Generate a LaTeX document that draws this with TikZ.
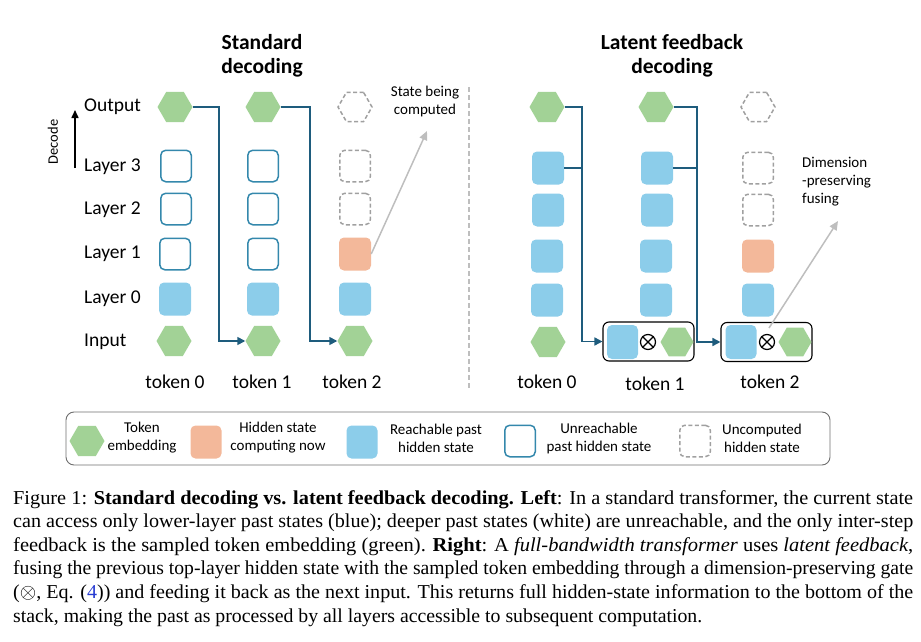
\documentclass[tikz,border=0pt]{standalone}
\usepackage{fontspec}
\setmainfont{Liberation Serif}
\newfontfamily\sansf{Carlito}
\usetikzlibrary{shapes.geometric,arrows.meta}
\definecolor{hexgreen}{RGB}{162,210,150}
\definecolor{reachblue}{RGB}{140,205,234}
\definecolor{nowor}{RGB}{243,184,154}
\definecolor{unreachc}{RGB}{52,136,172}
\definecolor{flowc}{RGB}{30,92,125}
\definecolor{dashgray}{RGB}{160,160,160}
\definecolor{pointgray}{RGB}{190,190,190}
\definecolor{legframe}{RGB}{110,110,110}
\definecolor{reflink}{RGB}{40,60,210}
\begin{document}
\begin{tikzpicture}[x=1pt,y=-1pt,
  hexn/.style={regular polygon, regular polygon sides=6, minimum size=35pt, inner sep=0pt, fill=hexgreen},
  hexdash/.style={regular polygon, regular polygon sides=6, minimum size=34pt, inner sep=0pt, draw=dashgray, line width=1.5pt, dash pattern=on 4pt off 2.5pt},
  sq/.style={rectangle, rounded corners=5pt, minimum width=32pt, minimum height=33pt, inner sep=0pt},
  reach/.style={sq, fill=reachblue},
  nowst/.style={sq, fill=nowor},
  unreach/.style={sq, draw=unreachc, line width=1.5pt, minimum width=30.5pt, minimum height=31.5pt},
  uncomp/.style={sq, draw=dashgray, line width=1.5pt, dash pattern=on 4pt off 2.5pt, minimum width=30.5pt, minimum height=31.5pt},
  fusebox/.style={rectangle, rounded corners=6pt, draw=black, line width=1.1pt, minimum width=91pt, minimum height=39pt, inner sep=0pt},
  otim/.style={circle, draw=black, line width=1.2pt, minimum size=15pt, inner sep=0pt},
  flow/.style={draw=flowc, line width=1.6pt},
  flowarrow/.style={flow, -{Triangle[length=8pt,width=8pt]}},
  pointer/.style={draw=pointgray, line width=1.5pt, -{Triangle[length=9pt,width=8pt]}},
  lab/.style={font=\sansf\fontsize{19.5}{22}\selectfont, inner sep=0pt},
  ttl/.style={font=\sansf\bfseries\fontsize{21.5}{23.5}\selectfont, align=center, inner sep=0pt},
  smalltxt/.style={font=\sansf\fontsize{15}{18}\selectfont, inner sep=0pt},
  leg/.style={font=\sansf\fontsize{15}{18}\selectfont, align=center, inner sep=0pt},
  capline/.style={anchor=base west, inner sep=0pt, font=\fontsize{19.7}{23.6}\selectfont}
]
\useasboundingbox (0,0) rectangle (921,642);

% ---------- titles ----------
\node[ttl] (t1) at (262,56) {Standard\\decoding};
\node[ttl] (t2) at (672,56) {Latent feedback\\decoding};

% ---------- decode arrow ----------
\coordinate (da) at (75,168);
\coordinate (db) at (75,110);
\draw[line width=1.5pt, -{Triangle[length=8pt,width=7pt]}] (da) -- (db);
\node[smalltxt, rotate=90, font=\sansf\fontsize{14.5}{17}\selectfont] (dec) at (53,142) {Decode};

% ---------- row labels ----------
\node[lab, anchor=west] (lo) at (84,107) {Output};
\node[lab, anchor=west] (l3) at (84,167) {Layer 3};
\node[lab, anchor=west] (l2) at (84,210) {Layer 2};
\node[lab, anchor=west] (l1) at (84,254) {Layer 1};
\node[lab, anchor=west] (l0) at (84,299) {Layer 0};
\node[lab, anchor=west] (li) at (84,342) {Input};

% ---------- left: standard decoding ----------
\node[hexn] (a0o) at (175,107) {};
\node[unreach] (a03) at (176,166) {};
\node[unreach] (a02) at (176,209) {};
\node[unreach] (a01) at (175,254) {};
\node[reach] (a00) at (175,299) {};
\node[hexn] (a0i) at (174,341) {};

\node[hexn] (a1o) at (263,107) {};
\node[unreach] (a13) at (263,166) {};
\node[unreach] (a12) at (263,209) {};
\node[unreach] (a11) at (263,254) {};
\node[reach] (a10) at (263,299) {};
\node[hexn] (a1i) at (263,341) {};

\node[hexdash] (a2o) at (355,107) {};
\node[uncomp] (a23) at (355,166) {};
\node[uncomp] (a22) at (355,209) {};
\node[nowst] (a21) at (355,254) {};
\node[reach] (a20) at (355,299) {};
\node[hexn] (a2i) at (355,341) {};

\node[lab] (tk0) at (175,382) {token 0};
\node[lab] (tk1) at (262,382) {token 1};
\node[lab] (tk2) at (352,382) {token 2};

\draw[flowarrow] (a0o.east) -- ++(26,0) |- (a1i.west);
\draw[flowarrow] (a1o.east) -- ++(29,0) |- (a2i.west);

\node[smalltxt, align=center] (sbc) at (425,102) {State being\\computed};
\coordinate (sbt) at (427,131);
\draw[pointer] (a21.east) -- (sbt);

% ---------- divider ----------
\coordinate (dv1) at (469,87);
\coordinate (dv2) at (469,390);
\draw[draw=pointgray, line width=1.3pt, dash pattern=on 5pt off 3pt] (dv1) -- (dv2);

% ---------- right: latent feedback ----------
\node[hexn] (b0o) at (547,107) {};
\node[reach] (b03) at (548,168) {};
\node[reach] (b02) at (548,210) {};
\node[reach] (b01) at (547,256) {};
\node[reach] (b00) at (547,300) {};
\node[hexn] (b0i) at (548,342) {};

\node[hexn] (b1o) at (656,107) {};
\node[reach] (b13) at (657,168) {};
\node[reach] (b12) at (657,210) {};
\node[reach] (b11) at (656,256) {};
\node[reach] (b10) at (656,300) {};

\node[hexdash] (b2o) at (758,107) {};
\node[uncomp] (b23) at (758,168) {};
\node[uncomp] (b22) at (758,210) {};
\node[nowst] (b21) at (758,256) {};
\node[reach] (b20) at (758,300) {};

% fuse boxes
\node[fusebox] (f1) at (648.5,341.5) {};
\node[reach, minimum width=31pt, minimum height=34pt] (f1s) at (622.5,342) {};
\node[otim] (f1x) at (648,342) {};
\node[hexn, minimum size=33pt] (f1h) at (677,342) {};
\draw[line width=1.2pt] (f1x.north west) -- (f1x.south east);
\draw[line width=1.2pt] (f1x.north east) -- (f1x.south west);

\node[fusebox] (f2) at (766.5,342) {};
\node[reach, minimum width=31pt, minimum height=34pt] (f2s) at (741,342) {};
\node[otim] (f2x) at (767,342) {};
\node[hexn, minimum size=33pt] (f2h) at (795,342) {};
\draw[line width=1.2pt] (f2x.north west) -- (f2x.south east);
\draw[line width=1.2pt] (f2x.north east) -- (f2x.south west);

\node[lab] (rk0) at (547,382) {token 0};
\node[lab] (rk1) at (655,384) {token 1};
\node[lab] (rk2) at (770,382) {token 2};

% connectors
\coordinate (j0) at (582,168);
\coordinate (j1) at (697,168);
\draw[flowarrow] (b0o.east) -- ++(17.5,0) |- (f1.west);
\draw[flow] (b03.east) -- (j0);
\draw[flowarrow] (b1o.east) -- ++(23.5,0) |- (f2.west);
\draw[flow] (b13.east) -- (j1);

\node[smalltxt, align=left, anchor=north west] (dpf) at (802,157) {Dimension\\-preserving\\fusing};
\coordinate (dpa) at (769,328);
\coordinate (dpb) at (838,221);
\draw[pointer] (dpa) -- (dpb);

% ---------- legend ----------
\node[draw=legframe, line width=0.9pt, rounded corners=8pt, minimum width=764pt, minimum height=53pt, inner sep=0pt] (lgd) at (448,438.5) {};
\node[hexn] (lg1) at (87,441) {};
\node[leg] (lg1t) at (142,438) {Token\\embedding};
\node[nowst, minimum width=31pt] (lg2) at (206,442) {};
\node[leg] (lg2t) at (278,438) {Hidden state\\computing now};
\node[reach, minimum width=31pt] (lg3) at (362,442) {};
\node[leg] (lg3t) at (436,438) {Reachable past\\hidden state};
\node[unreach] (lg4) at (520,441) {};
\node[leg] (lg4t) at (599,438) {Unreachable\\past hidden state};
\node[uncomp] (lg5) at (695,441) {};
\node[leg] (lg5t) at (762,438) {Uncomputed\\hidden state};

% ---------- caption ----------
\node[capline] (c1) at (13,504) {\resizebox{900pt}{\height}{Figure 1: \textbf{Standard decoding vs. latent feedback decoding. Left}: In a standard transformer, the current state}};
\node[capline] (c2) at (13,527.6) {\resizebox{900pt}{\height}{can access only lower-layer past states (blue); deeper past states (white) are unreachable, and the only inter-step}};
\node[capline] (c3) at (13,551.2) {\resizebox{900pt}{\height}{feedback is the sampled token embedding (green). \textbf{Right}: A \textit{full-bandwidth transformer} uses \textit{latent feedback},}};
\node[capline] (c4) at (13,574.8) {\resizebox{900pt}{\height}{fusing the previous top-layer hidden state with the sampled token embedding through a dimension-preserving gate}};
\node[capline] (c5) at (13,598.4) {\resizebox{900pt}{\height}{($\otimes$, Eq. ({\color{reflink}4})) and feeding it back as the next input. This returns full hidden-state information to the bottom of the}};
\node[capline] (c6) at (13,622) {\resizebox{689pt}{\height}{stack, making the past as processed by all layers accessible to subsequent computation.}};
\end{tikzpicture}
\end{document}
